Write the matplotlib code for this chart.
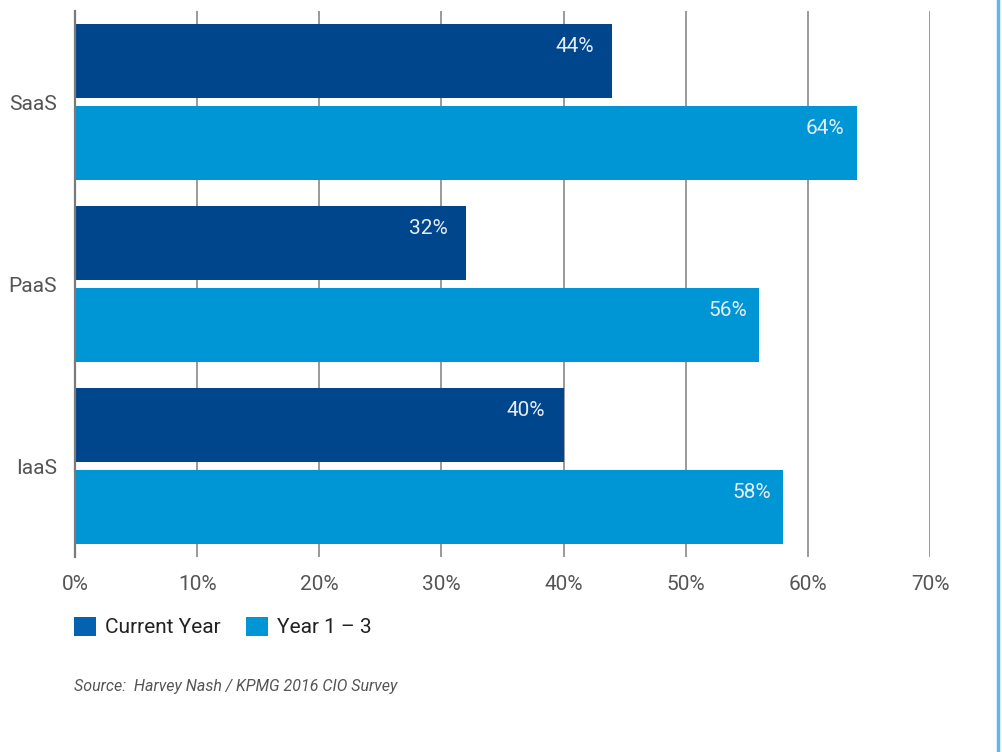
import matplotlib
matplotlib.use("Agg")
import matplotlib.pyplot as plt
from matplotlib.patches import Patch
from matplotlib.lines import Line2D
from matplotlib import font_manager

categories = ["SaaS", "PaaS", "IaaS"]
current_year = [44, 32, 40]
year_1_3 = [64, 56, 58]
series_names = ["Current Year", "Year 1 \u2013 3"]
xticks = [0, 10, 20, 30, 40, 50, 60, 70]
source = "Source:  Harvey Nash / KPMG 2016 CIO Survey"

names = {f.name for f in font_manager.fontManager.ttflist}
fam = [f for f in ["Liberation Sans Narrow", "Roboto", "DejaVu Sans"] if f in names]
plt.rcParams["font.family"] = fam

dark = "#00468C"
light = "#0096D6"
legend_dark = "#0562B0"

fig = plt.figure(figsize=(10.02, 7.52), dpi=100)
ax = fig.add_axes([75/1002, 1-557/752, (930-75)/1002, (557-11)/752])

h = 74/182
off = 41/182
ys = list(range(len(categories)))
ax.barh([y - off for y in ys], current_year, height=h, color=dark, zorder=3)
ax.barh([y + off for y in ys], year_1_3, height=h, color=light, zorder=3)

lab_shift = h/2 - 22/182
for y, v in zip(ys, current_year):
    ax.text(v - 1.5, y - off - lab_shift, f"{v}%", ha="right", va="center",
            color="#e6edf5", fontsize=15, zorder=4)
for y, v in zip(ys, year_1_3):
    ax.text(v - 1.0, y + off - lab_shift, f"{v}%", ha="right", va="center",
            color="#e6edf5", fontsize=15, zorder=4)

ax.set_xlim(0, 70)
ax.set_ylim(2.5, -0.5)
ax.set_xticks(xticks)
ax.set_xticklabels([f"{t}%" for t in xticks])
ax.set_yticks(ys)
ax.set_yticklabels(categories)
ax.tick_params(axis="x", length=0, pad=13, labelsize=15, labelcolor="#555555")
ax.tick_params(axis="y", length=0, pad=13, labelsize=15, labelcolor="#555555")
ax.grid(axis="x", color="#9a9a9a", linewidth=1.4, zorder=0)
for s in ["top", "right", "bottom"]:
    ax.spines[s].set_visible(False)
ax.spines["left"].set_color("#7a7a7a")
ax.spines["left"].set_linewidth(1.6)
ax.spines["left"].set_zorder(5)

handles = [Patch(facecolor=legend_dark), Patch(facecolor=light)]
fig.legend(handles, series_names, loc="center left",
           bbox_to_anchor=(74/1002, 1-627/752), ncol=2, frameon=False,
           fontsize=15, handlelength=1.05, handleheight=1.05,
           handletextpad=0.45, columnspacing=1.2, labelcolor="#222222",
           borderaxespad=0, borderpad=0)

fig.text(74/1002, 1-686/752, source, ha="left", va="center",
         fontsize=11.5, style="italic", color="#555555")

fig.add_artist(Line2D([998/1002, 998/1002], [0, 1], transform=fig.transFigure,
                      color="#5BB8E8", linewidth=2.5))

fig.savefig("out.png", dpi=100)
